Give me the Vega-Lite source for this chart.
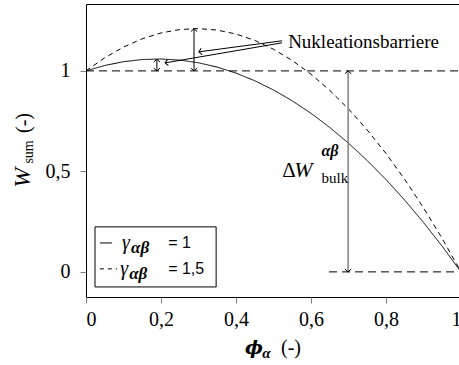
{
  "$schema": "https://vega.github.io/schema/vega-lite/v6.json",
  "width": 375,
  "height": 293,
  "autosize": "none",
  "padding": {"left": 86, "top": 4, "right": 0, "bottom": 68},
  "background": "white",
  "config": {
    "view": {"stroke": "black", "strokeWidth": 1},
    "axis": {"grid": false, "domain": false, "tickColor": "#808080", "tickSize": 6, "labelFont": "Liberation Serif", "labelFontSize": 20, "labelColor": "black", "title": null}
  },
  "layer": [
    {
      "data": {"values": [
        {"x": 0, "y": 1, "g": "1"}, {"x": 0.05, "y": 1.027, "g": "1"}, {"x": 0.1, "y": 1.0459, "g": "1"}, {"x": 0.15, "y": 1.0567, "g": "1"}, {"x": 0.2, "y": 1.0594, "g": "1"}, {"x": 0.25, "y": 1.0539, "g": "1"}, {"x": 0.3, "y": 1.0404, "g": "1"}, {"x": 0.35, "y": 1.0188, "g": "1"}, {"x": 0.4, "y": 0.989, "g": "1"}, {"x": 0.45, "y": 0.9512, "g": "1"}, {"x": 0.5, "y": 0.9053, "g": "1"}, {"x": 0.55, "y": 0.8512, "g": "1"}, {"x": 0.6, "y": 0.789, "g": "1"}, {"x": 0.65, "y": 0.7188, "g": "1"}, {"x": 0.7, "y": 0.6404, "g": "1"}, {"x": 0.75, "y": 0.5539, "g": "1"}, {"x": 0.8, "y": 0.4594, "g": "1"}, {"x": 0.85, "y": 0.3567, "g": "1"}, {"x": 0.9, "y": 0.2459, "g": "1"}, {"x": 0.95, "y": 0.127, "g": "1"}, {"x": 1, "y": 0, "g": "1"},
        {"x": 0, "y": 1, "g": "1,5"}, {"x": 0.05, "y": 1.0655, "g": "1,5"}, {"x": 0.1, "y": 1.1188, "g": "1,5"}, {"x": 0.15, "y": 1.16, "g": "1,5"}, {"x": 0.2, "y": 1.189, "g": "1,5"}, {"x": 0.25, "y": 1.2059, "g": "1,5"}, {"x": 0.3, "y": 1.2106, "g": "1,5"}, {"x": 0.35, "y": 1.2032, "g": "1,5"}, {"x": 0.4, "y": 1.1836, "g": "1,5"}, {"x": 0.45, "y": 1.1518, "g": "1,5"}, {"x": 0.5, "y": 1.1079, "g": "1,5"}, {"x": 0.55, "y": 1.0518, "g": "1,5"}, {"x": 0.6, "y": 0.9836, "g": "1,5"}, {"x": 0.65, "y": 0.9032, "g": "1,5"}, {"x": 0.7, "y": 0.8106, "g": "1,5"}, {"x": 0.75, "y": 0.7059, "g": "1,5"}, {"x": 0.8, "y": 0.589, "g": "1,5"}, {"x": 0.85, "y": 0.46, "g": "1,5"}, {"x": 0.9, "y": 0.3188, "g": "1,5"}, {"x": 0.95, "y": 0.1655, "g": "1,5"}, {"x": 1, "y": 0, "g": "1,5"}
      ]},
      "mark": {"type": "line", "color": "black", "strokeWidth": 1, "clip": true},
      "encoding": {
        "x": {"field": "x", "type": "quantitative", "scale": {"domain": [0, 1], "nice": false, "zero": false},
              "axis": {"values": [0, 0.2, 0.4, 0.6, 0.8, 1], "labelExpr": "replace(format(datum.value, '.1~f'), '.', ',')", "labelPadding": 6, "labelFont": "Liberation Serif", "labelFontSize": 20}},
        "y": {"field": "y", "type": "quantitative", "scale": {"domain": [-0.125, 1.333], "nice": false, "zero": false},
              "axis": {"values": [0, 0.5, 1], "labelExpr": "replace(format(datum.value, '.1~f'), '.', ',')", "labelPadding": 10, "labelFont": "Liberation Serif", "labelFontSize": 20}},
        "strokeDash": {"field": "g", "type": "nominal", "scale": {"domain": ["1", "1,5"], "range": [[1, 0], [5, 4]]}, "legend": null}
      }
    },
    {
      "data": {"values": [{"x": 0, "x2": 1, "y": 1}, {"x": 0.648, "x2": 1, "y": 0}]},
      "mark": {"type": "rule", "color": "black", "strokeWidth": 1, "strokeDash": [8, 5]},
      "encoding": {"x": {"field": "x", "type": "quantitative"}, "x2": {"field": "x2"}, "y": {"field": "y", "type": "quantitative"}}
    },
    {
      "data": {"values": [{"x": 0.189, "y": 1, "y2": 1.058}, {"x": 0.288, "y": 1, "y2": 1.21}]},
      "mark": {"type": "rule", "color": "black", "strokeWidth": 1},
      "encoding": {"x": {"field": "x", "type": "quantitative"}, "y": {"field": "y", "type": "quantitative"}, "y2": {"field": "y2"}}
    },
    {
      "data": {"values": [{"x": 0.699, "y": 0, "y2": 1}]},
      "mark": {"type": "rule", "color": "#808080", "strokeWidth": 1.5},
      "encoding": {"x": {"field": "x", "type": "quantitative"}, "y": {"field": "y", "type": "quantitative"}, "y2": {"field": "y2"}}
    },
    {
      "data": {"values": [{"x": 0.523, "y": 1.15, "x2": 0.301, "y2": 1.095}, {"x": 0.523, "y": 1.14, "x2": 0.211, "y2": 1.04}]},
      "mark": {"type": "rule", "color": "black", "strokeWidth": 1},
      "encoding": {"x": {"field": "x", "type": "quantitative"}, "y": {"field": "y", "type": "quantitative"}, "x2": {"field": "x2"}, "y2": {"field": "y2"}}
    },
    {
      "data": {"values": [{"x": 0.189, "y": 1.058}, {"x": 0.288, "y": 1.21}, {"x": 0.699, "y": 1}]},
      "mark": {"type": "point", "shape": "M-1,0.9L0,0L1,0.9", "filled": false, "color": "black", "strokeWidth": 1, "size": 40, "opacity": 1},
      "encoding": {"x": {"field": "x", "type": "quantitative"}, "y": {"field": "y", "type": "quantitative"}}
    },
    {
      "data": {"values": [{"x": 0.189, "y": 1}, {"x": 0.288, "y": 1}, {"x": 0.699, "y": 0}]},
      "mark": {"type": "point", "shape": "M-1,0.9L0,0L1,0.9", "angle": 180, "filled": false, "color": "black", "strokeWidth": 1, "size": 40, "opacity": 1},
      "encoding": {"x": {"field": "x", "type": "quantitative"}, "y": {"field": "y", "type": "quantitative"}}
    },
    {
      "data": {"values": [{"x": 0.301, "y": 1.095}, {"x": 0.211, "y": 1.04}]},
      "mark": {"type": "point", "shape": "M-1,0.9L0,0L1,0.9", "angle": 262, "filled": false, "color": "black", "strokeWidth": 1, "size": 40, "opacity": 1},
      "encoding": {"x": {"field": "x", "type": "quantitative"}, "y": {"field": "y", "type": "quantitative"}}
    },
    {
      "data": {"values": [{"x": 0.024, "x2": 0.347, "y": 0.224, "y2": -0.075}]},
      "mark": {"type": "rect", "fill": "white", "stroke": "black", "strokeWidth": 1},
      "encoding": {"x": {"field": "x", "type": "quantitative"}, "x2": {"field": "x2"}, "y": {"field": "y", "type": "quantitative"}, "y2": {"field": "y2"}}
    },
    {
      "data": {"values": [{"x": 0.037, "x2": 0.069, "y": 0.144}]},
      "mark": {"type": "rule", "color": "black", "strokeWidth": 1},
      "encoding": {"x": {"field": "x", "type": "quantitative"}, "x2": {"field": "x2"}, "y": {"field": "y", "type": "quantitative"}}
    },
    {
      "data": {"values": [{"x": 0.037, "x2": 0.083, "y": 0.015}]},
      "mark": {"type": "rule", "color": "black", "strokeWidth": 1, "strokeDash": [4, 4]},
      "encoding": {"x": {"field": "x", "type": "quantitative"}, "x2": {"field": "x2"}, "y": {"field": "y", "type": "quantitative"}}
    },
    {
      "data": {"values": [{"x": 0.096, "y": 0.144, "t": "γ"}, {"x": 0.091, "y": 0.015, "t": "γ"}]},
      "mark": {"type": "text", "font": "Liberation Serif", "fontStyle": "italic", "fontSize": 20, "align": "left", "baseline": "middle", "color": "black"},
      "encoding": {"x": {"field": "x", "type": "quantitative"}, "y": {"field": "y", "type": "quantitative"}, "text": {"field": "t"}}
    },
    {
      "data": {"values": [{"x": 0.12, "y": 0.12, "t": "αβ"}, {"x": 0.115, "y": -0.009, "t": "αβ"}]},
      "mark": {"type": "text", "font": "Liberation Serif", "fontStyle": "italic", "fontWeight": "bold", "fontSize": 17, "align": "left", "baseline": "middle", "color": "black"},
      "encoding": {"x": {"field": "x", "type": "quantitative"}, "y": {"field": "y", "type": "quantitative"}, "text": {"field": "t"}}
    },
    {
      "data": {"values": [{"x": 0.219, "y": 0.144, "t": "= 1"}, {"x": 0.219, "y": 0.015, "t": "= 1,5"}]},
      "mark": {"type": "text", "font": "Liberation Sans", "fontSize": 16, "align": "left", "baseline": "middle", "color": "black"},
      "encoding": {"x": {"field": "x", "type": "quantitative"}, "y": {"field": "y", "type": "quantitative"}, "text": {"field": "t"}}
    },
    {
      "data": {"values": [{"x": 0.539, "y": 1.144, "t": "Nukleationsbarriere"}]},
      "mark": {"type": "text", "font": "Liberation Serif", "fontSize": 19, "align": "left", "baseline": "middle", "color": "black"},
      "encoding": {"x": {"field": "x", "type": "quantitative"}, "y": {"field": "y", "type": "quantitative"}, "text": {"field": "t"}}
    },
    {
      "data": {"values": [{"x": 0.523, "y": 0.473, "t": "Δ"}]},
      "mark": {"type": "text", "font": "Liberation Serif", "fontSize": 21, "align": "left", "baseline": "alphabetic", "color": "black"},
      "encoding": {"x": {"field": "x", "type": "quantitative"}, "y": {"field": "y", "type": "quantitative"}, "text": {"field": "t"}}
    },
    {
      "data": {"values": [{"x": 0.555, "y": 0.473, "t": "W"}]},
      "mark": {"type": "text", "font": "Liberation Serif", "fontStyle": "italic", "fontSize": 22, "align": "left", "baseline": "alphabetic", "color": "black"},
      "encoding": {"x": {"field": "x", "type": "quantitative"}, "y": {"field": "y", "type": "quantitative"}, "text": {"field": "t"}}
    },
    {
      "data": {"values": [{"x": 0.628, "y": 0.6, "t": "αβ"}]},
      "mark": {"type": "text", "font": "Liberation Serif", "fontStyle": "italic", "fontWeight": "bold", "fontSize": 16, "align": "left", "baseline": "middle", "color": "black"},
      "encoding": {"x": {"field": "x", "type": "quantitative"}, "y": {"field": "y", "type": "quantitative"}, "text": {"field": "t"}}
    },
    {
      "data": {"values": [{"x": 0.628, "y": 0.443, "t": "bulk"}]},
      "mark": {"type": "text", "font": "Liberation Serif", "fontSize": 15, "align": "left", "baseline": "alphabetic", "color": "black"},
      "encoding": {"x": {"field": "x", "type": "quantitative"}, "y": {"field": "y", "type": "quantitative"}, "text": {"field": "t"}}
    },
    {
      "data": {"values": [{"x": -0.149, "y": 0.468, "t": "W"}]},
      "mark": {"type": "text", "font": "Liberation Serif", "fontStyle": "italic", "fontSize": 24, "angle": 270, "align": "center", "baseline": "alphabetic", "color": "black"},
      "encoding": {"x": {"field": "x", "type": "quantitative"}, "y": {"field": "y", "type": "quantitative"}, "text": {"field": "t"}}
    },
    {
      "data": {"values": [{"x": -0.141, "y": 0.597, "t": "sum"}]},
      "mark": {"type": "text", "font": "Liberation Serif", "fontSize": 14, "angle": 270, "align": "center", "baseline": "alphabetic", "color": "black"},
      "encoding": {"x": {"field": "x", "type": "quantitative"}, "y": {"field": "y", "type": "quantitative"}, "text": {"field": "t"}}
    },
    {
      "data": {"values": [{"x": -0.149, "y": 0.741, "t": "(-)"}]},
      "mark": {"type": "text", "font": "Liberation Serif", "fontSize": 20, "angle": 270, "align": "center", "baseline": "alphabetic", "color": "black"},
      "encoding": {"x": {"field": "x", "type": "quantitative"}, "y": {"field": "y", "type": "quantitative"}, "text": {"field": "t"}}
    },
    {
      "data": {"values": [{"x": 0.424, "y": -0.408, "t": "ϕ"}]},
      "mark": {"type": "text", "font": "DejaVu Serif", "fontStyle": "italic", "fontWeight": "bold", "fontSize": 19, "align": "left", "baseline": "alphabetic", "color": "black"},
      "encoding": {"x": {"field": "x", "type": "quantitative"}, "y": {"field": "y", "type": "quantitative"}, "text": {"field": "t"}}
    },
    {
      "data": {"values": [{"x": 0.47, "y": -0.43, "t": "α"}]},
      "mark": {"type": "text", "font": "Liberation Serif", "fontStyle": "italic", "fontWeight": "bold", "fontSize": 15, "align": "left", "baseline": "alphabetic", "color": "black"},
      "encoding": {"x": {"field": "x", "type": "quantitative"}, "y": {"field": "y", "type": "quantitative"}, "text": {"field": "t"}}
    },
    {
      "data": {"values": [{"x": 0.52, "y": -0.408, "t": "(-)"}]},
      "mark": {"type": "text", "font": "Liberation Serif", "fontSize": 20, "align": "left", "baseline": "alphabetic", "color": "black"},
      "encoding": {"x": {"field": "x", "type": "quantitative"}, "y": {"field": "y", "type": "quantitative"}, "text": {"field": "t"}}
    }
  ]
}
